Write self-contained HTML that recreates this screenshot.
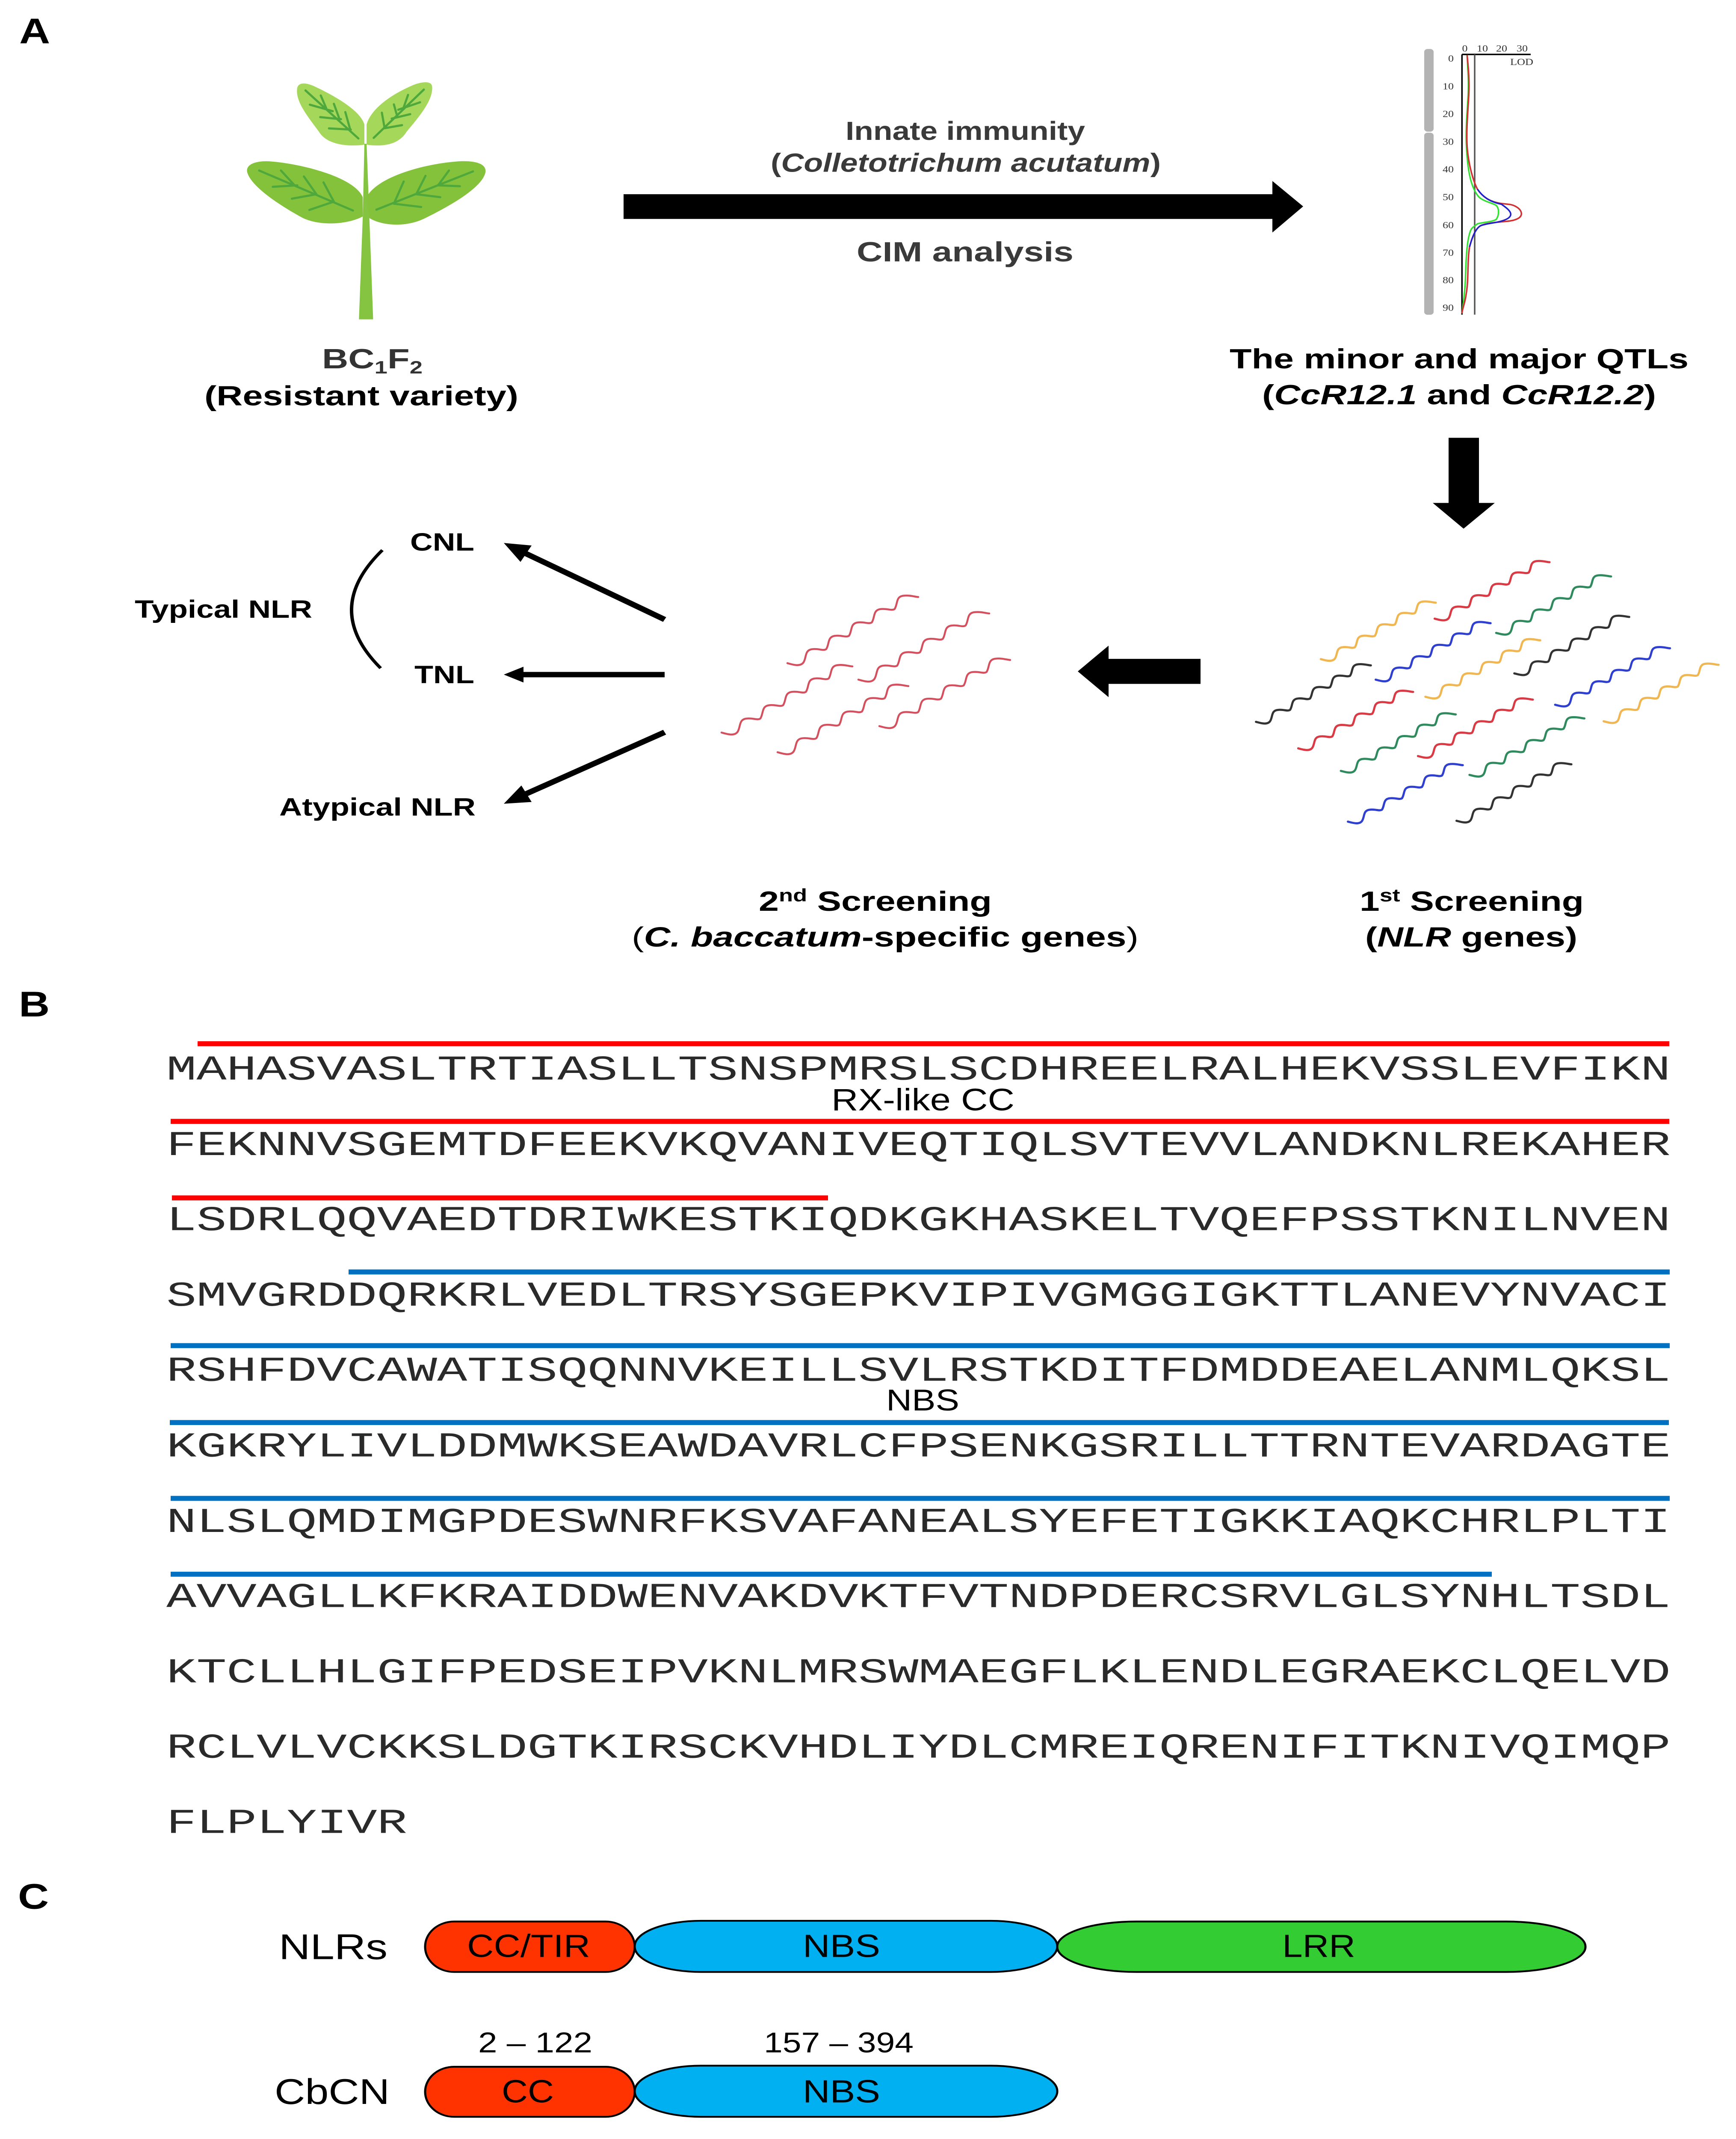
<!DOCTYPE html>
<html><head><meta charset="utf-8"><style>
html,body{margin:0;padding:0;background:#fff;width:100vw;height:100vh;overflow:hidden}
svg{display:block;width:100vw;height:100vh}
text{font-family:"Liberation Sans",sans-serif}
.b{font-weight:bold}
.i{font-style:italic}
.n{font-weight:normal;font-style:normal}
.m{font-family:"Liberation Mono",monospace;font-size:98px;fill:#2a2a2a}
.r{font-family:"Liberation Serif",serif;font-size:26px;fill:#333}
.v{fill:none;stroke:#4ea83c;stroke-width:5;vector-effect:non-scaling-stroke;stroke-linecap:round}
.q{fill:none;stroke-width:3.5;vector-effect:non-scaling-stroke}
.w{fill:none;vector-effect:non-scaling-stroke;stroke-linecap:round}
</style></head><body>
<svg xmlns="http://www.w3.org/2000/svg" viewBox="0 0 4059 5980" preserveAspectRatio="none">
<rect width="4059" height="5980" fill="#fff"/>
<defs>
<path id="w" class="w" d="M0,0c12,4 30,12 38,-2c8,-15 2,-38 22,-40c15,-2 25,6 32,0c8,-15 2,-38 22,-40c15,-2 25,6 32,0c8,-15 2,-38 22,-40c15,-2 25,6 32,0c8,-15 2,-38 22,-40c15,-2 25,6 32,0c8,-15 2,-38 22,-40c15,-2 28,4 34,4"/>
</defs>

<!-- Panel letters -->
<text x="45" y="121" class="b" font-size="100">A</text>
<text x="44" y="2842" class="b" font-size="100">B</text>
<text x="42" y="5336" class="b" font-size="100">C</text>

<!-- Plant -->
<g transform="scale(1.2755,.829)">
<polygon points="668,485 672,485 677,730 684,1077 658,1077 665,730" fill="#85c441"/>
<path fill="#a5d85a" d="M668,488C640,495 600,490 585,445C565,395 540,340 545,295C548,278 560,278 575,290C610,320 660,370 668,420Z"/>
<path fill="#a5d85a" d="M672,488C700,495 730,490 745,445C770,390 795,335 792,290C790,273 775,275 760,285C720,315 680,365 672,420Z"/>
<path fill="#85c23c" d="M665,730C640,755 590,765 555,735C515,695 460,630 453,580C450,550 475,540 500,545C560,555 650,600 665,665Z"/>
<path fill="#85c23c" d="M677,735C700,762 745,768 780,735C830,690 885,630 890,580C892,548 865,540 835,545C770,555 690,600 672,665Z"/>
<path class="v" d="M560,305L657,467M588,322L598,365M568,353L610,375M612,350L622,400M587,395L625,402M633,378L642,437M603,433L643,437"/>
<path class="v" d="M777,302L685,465M748,320L740,362M770,345L730,370M722,352L727,385M752,385L718,400M700,380L705,432M737,422L703,433"/>
<path class="v" d="M475,575L647,710M515,575L540,625M500,630L545,625M557,595L580,655M535,670L580,655M593,615L612,680M567,708L612,680"/>
<path class="v" d="M867,578L690,707M823,575L803,625M843,628L803,625M780,593L763,655M807,665L763,655M740,612L722,687M772,698L722,687"/>
</g>
<text x="753" y="1030" class="b" font-size="78" fill="#333" textLength="235" lengthAdjust="spacingAndGlyphs">BC<tspan font-size="50" dy="14">1</tspan><tspan dy="-14">F</tspan><tspan font-size="50" dy="14">2</tspan></text>
<text x="478" y="1133" class="b" font-size="78" textLength="734" lengthAdjust="spacingAndGlyphs">(Resistant variety)</text>

<!-- Big arrow -->
<polygon points="1458,543 2975,543 2975,506 3047,577 2975,650 2975,612 1458,612" fill="#000"/>
<text x="1977" y="391" class="b" font-size="73" fill="#3a3a3a" textLength="560" lengthAdjust="spacingAndGlyphs">Innate immunity</text>
<text x="1802" y="480" class="b" font-size="73" fill="#3a3a3a" textLength="912" lengthAdjust="spacingAndGlyphs">(<tspan class="i">Colletotrichum acutatum</tspan>)</text>
<text x="2003" y="731" class="b" font-size="78" fill="#3a3a3a" textLength="507" lengthAdjust="spacingAndGlyphs">CIM analysis</text>

<!-- QTL chart -->
<rect x="3330" y="137" width="22" height="231" rx="8" fill="#b3b3b3"/>
<rect x="3330" y="371" width="22" height="509" rx="8" fill="#b3b3b3"/>
<g transform="translate(2800,80) scale(.803,.7015)">
<path class="q" stroke="#000" d="M770,103V1140M770,103H970"/>
<path class="q" stroke="#555" d="M807,103V1140"/>
<path class="q" stroke="#35e035" d="M785,105C786,150 790,200 788,260C786,320 780,400 783,470C786,560 795,635 820,672C835,690 860,695 870,705C880,720 877,745 870,760C860,770 830,772 815,778C805,790 800,790 795,805C785,840 782,900 780,1000C778,1060 772,1110 770,1135"/>
<path class="q" stroke="#d03030" d="M785,105C788,150 792,200 790,260C788,320 782,400 785,470C788,530 800,600 815,640C830,670 850,690 885,697L905,700C925,702 943,720 943,738C943,755 925,765 900,768C870,772 840,775 825,785C810,795 800,830 792,870C785,930 790,1000 782,1060C778,1100 770,1120 770,1135"/>
<path class="q" stroke="#2020c8" d="M815,640C830,670 850,690 885,700C895,710 912,725 912,740C912,755 895,765 870,772C845,778 835,780 825,785C810,795 800,830 792,870"/>
</g>
<text x="3425" y="144" class="r" text-anchor="middle">0</text>
<text x="3466" y="144" class="r" text-anchor="middle">10</text>
<text x="3511" y="144" class="r" text-anchor="middle">20</text>
<text x="3559" y="144" class="r" text-anchor="middle">30</text>
<text x="3531" y="182" class="r" textLength="54" lengthAdjust="spacingAndGlyphs">LOD</text>
<g text-anchor="end">
<text x="3399" y="172" class="r">0</text>
<text x="3399" y="250" class="r">10</text>
<text x="3399" y="327" class="r">20</text>
<text x="3399" y="405" class="r">30</text>
<text x="3399" y="482" class="r">40</text>
<text x="3399" y="560" class="r">50</text>
<text x="3399" y="638" class="r">60</text>
<text x="3399" y="715" class="r">70</text>
<text x="3399" y="792" class="r">80</text>
<text x="3399" y="869" class="r">90</text>
</g>
<text x="2875" y="1030" class="b" font-size="78" textLength="1073" lengthAdjust="spacingAndGlyphs">The minor and major QTLs</text>
<text x="2951" y="1130" class="b" font-size="78" textLength="921" lengthAdjust="spacingAndGlyphs">(<tspan class="i">CcR12.1</tspan> and <tspan class="i">CcR12.2</tspan>)</text>

<!-- Block arrows -->
<polygon points="3387,1224 3458,1224 3458,1406 3495,1406 3422,1478 3350,1406 3387,1406" fill="#000"/>
<polygon points="2807,1842 2592,1842 2592,1805 2520,1877 2592,1949 2592,1912 2807,1912" fill="#000"/>

<!-- First screening waves -->
<g transform="translate(2700,1500) scale(.8667,.797)" stroke-width="5">
<use href="#w" x="448" y="430" stroke="#f0b652"/>
<use href="#w" x="755" y="288" stroke="#d93a44"/>
<use href="#w" x="921" y="338" stroke="#2f8a5e"/>
<use href="#w" x="596" y="502" stroke="#2f3fcf"/>
<use href="#w" x="970" y="480" stroke="#333"/>
<use href="#w" x="730" y="562" stroke="#f0b652"/>
<use href="#w" x="273" y="650" stroke="#333"/>
<use href="#w" x="1080" y="590" stroke="#2f3fcf"/>
<use href="#w" x="1211" y="648" stroke="#f0b652"/>
<use href="#w" x="387" y="743" stroke="#d93a44"/>
<use href="#w" x="710" y="770" stroke="#d93a44"/>
<use href="#w" x="502" y="822" stroke="#2f8a5e"/>
<use href="#w" x="849" y="836" stroke="#2f8a5e"/>
<use href="#w" x="521" y="1000" stroke="#2f3fcf"/>
<use href="#w" x="814" y="997" stroke="#333"/>
</g>
<!-- Second screening waves -->
<g stroke="#d4505e" stroke-width="4.5">
<g transform="translate(1841,1854) scale(.987,.934)"><use href="#w"/></g>
<g transform="translate(2007,1900) scale(.987,.934)"><use href="#w"/></g>
<g transform="translate(1687,2048) scale(.987,.934)"><use href="#w"/></g>
<g transform="translate(2056,2030) scale(.987,.934)"><use href="#w"/></g>
<g transform="translate(1818,2103) scale(.987,.934)"><use href="#w"/></g>
</g>

<!-- NLR arrows -->
<line x1="1554" y1="1732" x2="1225" y2="1545" stroke="#000" stroke-width="15"/>
<polygon points="1178,1518 1243,1525 1217,1571" fill="#000"/>
<line x1="1554" y1="1886" x2="1220" y2="1886" stroke="#000" stroke-width="15"/>
<polygon points="1178,1886 1224,1864 1224,1908" fill="#000"/>
<line x1="1554" y1="2047" x2="1225" y2="2222" stroke="#000" stroke-width="15"/>
<polygon points="1178,2247 1243,2242 1219,2196" fill="#000"/>
<path d="M894,1538Q752,1703 890,1868" fill="none" stroke="#000" stroke-width="8"/>

<text x="959" y="1539" class="b" font-size="70" textLength="150" lengthAdjust="spacingAndGlyphs">CNL</text>
<text x="969" y="1910" class="b" font-size="70" textLength="140" lengthAdjust="spacingAndGlyphs">TNL</text>
<text x="315" y="1727" class="b" font-size="70" textLength="415" lengthAdjust="spacingAndGlyphs">Typical NLR</text>
<text x="653" y="2280" class="b" font-size="70" textLength="459" lengthAdjust="spacingAndGlyphs">Atypical NLR</text>

<text x="1774" y="2546" class="b" font-size="78" textLength="545" lengthAdjust="spacingAndGlyphs">2<tspan font-size="50" dy="-26">nd</tspan><tspan dy="26"> Screening</tspan></text>
<text x="1477" y="2646" class="b" font-size="78" textLength="1185" lengthAdjust="spacingAndGlyphs"><tspan class="n">(</tspan><tspan class="i">C. baccatum</tspan>-specific genes<tspan class="n">)</tspan></text>
<text x="3179" y="2546" class="b" font-size="78" textLength="524" lengthAdjust="spacingAndGlyphs">1<tspan font-size="50" dy="-26">st</tspan><tspan dy="26"> Screening</tspan></text>
<text x="3192" y="2646" class="b" font-size="78" textLength="496" lengthAdjust="spacingAndGlyphs">(<tspan class="i">NLR</tspan> genes)</text>

<!-- Sequence bars -->
<rect x="462" y="2911" width="3441" height="14" fill="#ff0000"/>
<rect x="399" y="3128" width="3504" height="14" fill="#ff0000"/>
<rect x="402" y="3342" width="1534" height="14" fill="#ff0000"/>
<rect x="815" y="3549" width="3089" height="14" fill="#0070c0"/>
<rect x="399" y="3755" width="3505" height="14" fill="#0070c0"/>
<rect x="397" y="3970" width="3505" height="14" fill="#0070c0"/>
<rect x="399" y="4182" width="3505" height="14" fill="#0070c0"/>
<rect x="399" y="4394" width="3089" height="14" fill="#0070c0"/>

<!-- Sequence -->
<text class="m" x="389" y="3018" textLength="3517" lengthAdjust="spacingAndGlyphs">MAHASVASLTRTIASLLTSNSPMRSLSCDHREELRALHEKVSSLEVFIKN</text>
<text class="m" x="389" y="3229" textLength="3517" lengthAdjust="spacingAndGlyphs">FEKNNVSGEMTDFEEKVKQVANIVEQTIQLSVTEVVLANDKNLREKAHER</text>
<text class="m" x="389" y="3439" textLength="3517" lengthAdjust="spacingAndGlyphs">LSDRLQQVAEDTDRIWKESTKIQDKGKHASKELTVQEFPSSTKNILNVEN</text>
<text class="m" x="389" y="3650" textLength="3517" lengthAdjust="spacingAndGlyphs">SMVGRDDQRKRLVEDLTRSYSGEPKVIPIVGMGGIGKTTLANEVYNVACI</text>
<text class="m" x="389" y="3860" textLength="3517" lengthAdjust="spacingAndGlyphs">RSHFDVCAWATISQQNNVKEILLSVLRSTKDITFDMDDEAELANMLQKSL</text>
<text class="m" x="389" y="4072" textLength="3517" lengthAdjust="spacingAndGlyphs">KGKRYLIVLDDMWKSEAWDAVRLCFPSENKGSRILLTTRNTEVARDAGTE</text>
<text class="m" x="389" y="4283" textLength="3517" lengthAdjust="spacingAndGlyphs">NLSLQMDIMGPDESWNRFKSVAFANEALSYEFETIGKKIAQKCHRLPLTI</text>
<text class="m" x="389" y="4493" textLength="3517" lengthAdjust="spacingAndGlyphs">AVVAGLLKFKRAIDDWENVAKDVKTFVTNDPDERCSRVLGLSYNHLTSDL</text>
<text class="m" x="389" y="4703" textLength="3517" lengthAdjust="spacingAndGlyphs">KTCLLHLGIFPEDSEIPVKNLMRSWMAEGFLKLENDLEGRAEKCLQELVD</text>
<text class="m" x="389" y="4914" textLength="3517" lengthAdjust="spacingAndGlyphs">RCLVLVCKKSLDGTKIRSCKVHDLIYDLCMREIQRENIFITKNIVQIMQP</text>
<text class="m" x="389" y="5124" textLength="563" lengthAdjust="spacingAndGlyphs">FLPLYIVR</text>
<text x="1944" y="3104" font-size="86" textLength="428" lengthAdjust="spacingAndGlyphs">RX-like CC</text>
<text x="2072" y="3943" font-size="84" textLength="171" lengthAdjust="spacingAndGlyphs">NBS</text>

<!-- Domains -->
<g stroke="#000" stroke-width="5">
<rect x="994" y="5372" width="490" height="141" rx="68" ry="70" fill="#ff3300"/>
<rect x="1484" y="5370" width="988" height="143" rx="155" ry="71" fill="#00b0f0"/>
<rect x="2472" y="5372" width="1235" height="141" rx="185" ry="70" fill="#33cc33"/>
<rect x="994" y="5778" width="490" height="140" rx="68" ry="70" fill="#ff3300"/>
<rect x="1484" y="5775" width="988" height="143" rx="155" ry="71" fill="#00b0f0"/>
</g>
<text x="652" y="5477" font-size="100" textLength="254" lengthAdjust="spacingAndGlyphs">NLRs</text>
<text x="1092" y="5471" font-size="90" textLength="288" lengthAdjust="spacingAndGlyphs">CC/TIR</text>
<text x="1877" y="5471" font-size="90" textLength="181" lengthAdjust="spacingAndGlyphs">NBS</text>
<text x="2998" y="5471" font-size="90" textLength="171" lengthAdjust="spacingAndGlyphs">LRR</text>
<text x="1118" y="5738" font-size="80" textLength="267" lengthAdjust="spacingAndGlyphs">2 – 122</text>
<text x="1786" y="5738" font-size="80" textLength="350" lengthAdjust="spacingAndGlyphs">157 – 394</text>
<text x="642" y="5882" font-size="100" textLength="269" lengthAdjust="spacingAndGlyphs">CbCN</text>
<text x="1173" y="5878" font-size="90" textLength="122" lengthAdjust="spacingAndGlyphs">CC</text>
<text x="1877" y="5878" font-size="90" textLength="181" lengthAdjust="spacingAndGlyphs">NBS</text>
</svg>
</body></html>
